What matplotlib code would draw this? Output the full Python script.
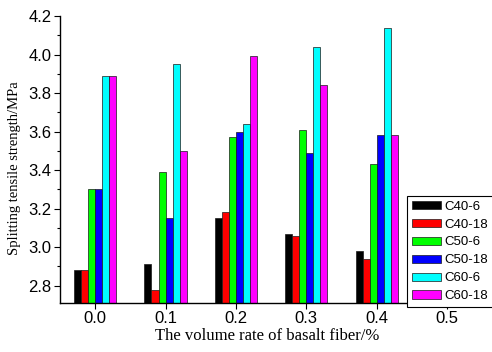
import matplotlib
matplotlib.use("Agg")

import numpy as np
import matplotlib.pyplot as plt
from matplotlib.ticker import MultipleLocator

# ---------------------------
# DATA
# ---------------------------

fiber_rate = [0.0, 0.1, 0.2, 0.3, 0.4]
series_names = ["C40-6", "C40-18", "C50-6", "C50-18", "C60-6", "C60-18"]

c40_6 = [2.88, 2.91, 3.15, 3.07, 2.98]
c40_18 = [2.88, 2.78, 3.18, 3.06, 2.94]
c50_6 = [3.30, 3.39, 3.57, 3.61, 3.43]
c50_18 = [3.30, 3.15, 3.60, 3.49, 3.58]
c60_6 = [3.89, 3.95, 3.64, 4.04, 4.14]
c60_18 = [3.89, 3.50, 3.99, 3.84, 3.58]

colors = ["#000000", "#ff0000", "#00ff00", "#0000ff", "#00ffff", "#ff00ff"]

# ---------------------------
# PLOT
# ---------------------------

fig = plt.figure(figsize=(4.92, 3.52), dpi=100)
ax = fig.add_axes([60 / 492, 1 - 303 / 352, 387 / 492, 287 / 352])

ymin = 2.71
bar_w = 0.01
all_series = [c40_6, c40_18, c50_6, c50_18, c60_6, c60_18]
x = np.array(fiber_rate)

for i, (vals, name, col) in enumerate(zip(all_series, series_names, colors)):
    vals = np.array(vals)
    ax.bar(x + (i - 2.5) * bar_w, vals - ymin, bottom=ymin, width=bar_w,
           color=col, edgecolor="#1a1a1a", linewidth=0.5, label=name)

ax.set_xlim(-0.05, 0.5)
ax.set_ylim(ymin, 4.2)
xt = [0.0, 0.1, 0.2, 0.3, 0.4, 0.5]
yt = [2.8, 3.0, 3.2, 3.4, 3.6, 3.8, 4.0, 4.2]
ax.set_xticks(xt)
ax.set_yticks(yt)
ax.set_xticklabels([f"{v:.1f}" for v in xt], family="Liberation Sans")
ax.set_yticklabels([f"{v:.1f}" for v in yt], family="Liberation Sans")
ax.yaxis.set_minor_locator(MultipleLocator(0.1))

ax.spines["top"].set_visible(False)
ax.spines["right"].set_visible(False)
for s in ["left", "bottom"]:
    ax.spines[s].set_linewidth(1.0)

ax.tick_params(which="major", direction="out", length=4, width=0.8,
               labelsize=12, pad=2)
ax.tick_params(which="minor", direction="out", length=2, width=0.8)

ax.set_xlabel("The volume rate of basalt fiber/%", family="Liberation Serif",
              fontsize=12)
ax.xaxis.set_label_coords((267 - 60) / 387, -0.088)
ax.set_ylabel("Splitting tensile strength/MPa", family="Liberation Serif",
              fontsize=10.5)
ax.yaxis.set_label_coords(-0.10, 0.47)

leg = fig.legend(loc="upper left", bbox_to_anchor=(407 / 492, 1 - 196 / 352),
                 prop={"family": "Liberation Sans", "size": 9.5},
                 handlelength=2.2, handleheight=0.6, labelspacing=0.45,
                 handletextpad=0.3, borderpad=0.35, borderaxespad=0,
                 frameon=True, fancybox=False, framealpha=1)
leg.get_frame().set_edgecolor("black")
leg.get_frame().set_linewidth(0.8)

plt.savefig("out.png", dpi=100)
